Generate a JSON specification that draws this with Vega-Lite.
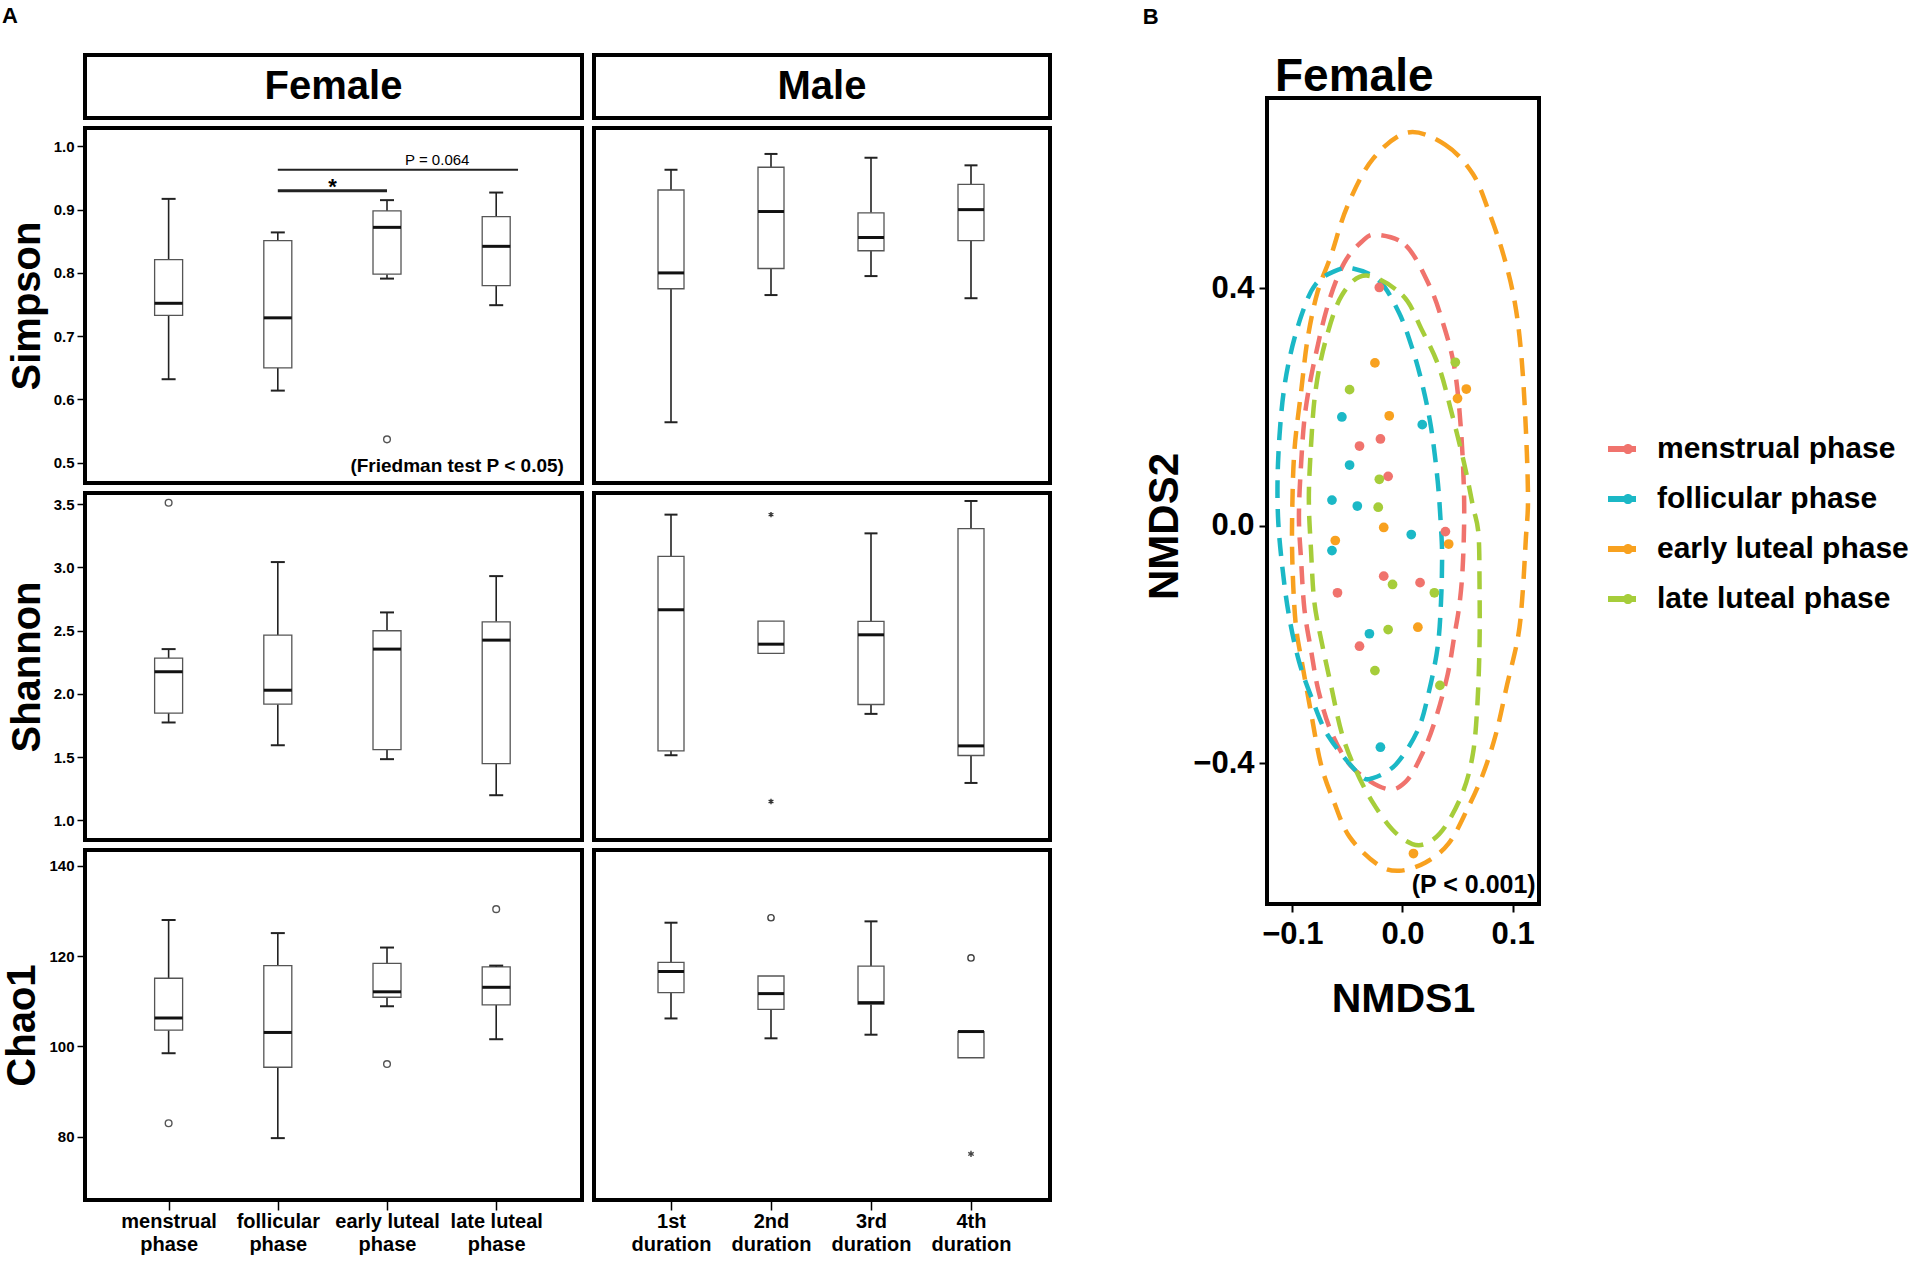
{
"$schema": "https://vega.github.io/schema/vega-lite/v6.json",
"background": "white",
"padding": {"left": 0, "top": 5, "right": 0, "bottom": 0},
"config": {
 "view": {"stroke": "black", "strokeWidth": 4},
 "font": "Liberation Sans",
 "axis": {"grid": false, "domain": false, "labelFont": "Liberation Sans", "titleFont": "Liberation Sans", "labelFontWeight": "bold", "labelColor": "black", "tickColor": "black", "titleColor": "black", "titleFontWeight": "bold"},
 "title": {"font": "Liberation Sans", "fontWeight": "bold", "color": "black"},
 "text": {"font": "Liberation Sans", "color": "black"}
},
"datasets": {
 "box": [
  {"metric":"Simpson","sex":"Female","g":1,"lo":0.632,"q1":0.733,"med":0.752,"q3":0.821,"hi":0.917},
  {"metric":"Simpson","sex":"Female","g":2,"lo":0.614,"q1":0.650,"med":0.729,"q3":0.851,"hi":0.864},
  {"metric":"Simpson","sex":"Female","g":3,"lo":0.791,"q1":0.798,"med":0.872,"q3":0.898,"hi":0.915},
  {"metric":"Simpson","sex":"Female","g":4,"lo":0.749,"q1":0.780,"med":0.842,"q3":0.889,"hi":0.927},
  {"metric":"Simpson","sex":"Male","g":1,"lo":0.564,"q1":0.775,"med":0.800,"q3":0.931,"hi":0.963},
  {"metric":"Simpson","sex":"Male","g":2,"lo":0.765,"q1":0.807,"med":0.897,"q3":0.967,"hi":0.988},
  {"metric":"Simpson","sex":"Male","g":3,"lo":0.795,"q1":0.835,"med":0.856,"q3":0.895,"hi":0.982},
  {"metric":"Simpson","sex":"Male","g":4,"lo":0.760,"q1":0.851,"med":0.900,"q3":0.940,"hi":0.970},
  {"metric":"Shannon","sex":"Female","g":1,"lo":1.773,"q1":1.847,"med":2.174,"q3":2.282,"hi":2.353},
  {"metric":"Shannon","sex":"Female","g":2,"lo":1.593,"q1":1.918,"med":2.028,"q3":2.464,"hi":3.041},
  {"metric":"Shannon","sex":"Female","g":3,"lo":1.483,"q1":1.559,"med":2.353,"q3":2.498,"hi":2.643},
  {"metric":"Shannon","sex":"Female","g":4,"lo":1.198,"q1":1.448,"med":2.424,"q3":2.569,"hi":2.930},
  {"metric":"Shannon","sex":"Male","g":1,"lo":1.514,"q1":1.549,"med":2.664,"q3":3.086,"hi":3.416},
  {"metric":"Shannon","sex":"Male","g":2,"lo":null,"q1":2.319,"med":2.392,"q3":2.574,"hi":null},
  {"metric":"Shannon","sex":"Male","g":3,"lo":1.841,"q1":1.915,"med":2.466,"q3":2.572,"hi":3.268},
  {"metric":"Shannon","sex":"Male","g":4,"lo":1.295,"q1":1.512,"med":1.588,"q3":3.305,"hi":3.524},
  {"metric":"Chao1","sex":"Female","g":1,"lo":98.5,"q1":103.6,"med":106.3,"q3":115.1,"hi":128.0},
  {"metric":"Chao1","sex":"Female","g":2,"lo":79.7,"q1":95.4,"med":103.1,"q3":117.9,"hi":125.1},
  {"metric":"Chao1","sex":"Female","g":3,"lo":108.9,"q1":110.9,"med":112.1,"q3":118.4,"hi":121.9},
  {"metric":"Chao1","sex":"Female","g":4,"lo":101.6,"q1":109.2,"med":113.1,"q3":117.6,"hi":117.9},
  {"metric":"Chao1","sex":"Male","g":1,"lo":106.2,"q1":111.9,"med":116.6,"q3":118.6,"hi":127.4},
  {"metric":"Chao1","sex":"Male","g":2,"lo":101.8,"q1":108.2,"med":111.7,"q3":115.6,"hi":null},
  {"metric":"Chao1","sex":"Male","g":3,"lo":102.6,"q1":109.4,"med":109.7,"q3":117.8,"hi":127.7},
  {"metric":"Chao1","sex":"Male","g":4,"lo":null,"q1":97.5,"med":103.3,"q3":103.3,"hi":null}
 ],
 "out": [
  {"metric":"Simpson","sex":"Female","g":3,"v":0.537,"kind":"o"},
  {"metric":"Shannon","sex":"Female","g":1,"v":3.51,"kind":"o"},
  {"metric":"Shannon","sex":"Male","g":2,"v":3.416,"kind":"*"},
  {"metric":"Shannon","sex":"Male","g":2,"v":1.148,"kind":"*"},
  {"metric":"Chao1","sex":"Female","g":1,"v":83.0,"kind":"o"},
  {"metric":"Chao1","sex":"Female","g":3,"v":96.1,"kind":"o"},
  {"metric":"Chao1","sex":"Female","g":4,"v":130.4,"kind":"o"},
  {"metric":"Chao1","sex":"Male","g":2,"v":128.5,"kind":"o"},
  {"metric":"Chao1","sex":"Male","g":4,"v":119.6,"kind":"o"},
  {"metric":"Chao1","sex":"Male","g":4,"v":76.2,"kind":"*"}
 ],
 "pts": [
  {"phase":"menstrual phase","x":-0.021,"y":0.401},{"phase":"menstrual phase","x":-0.020,"y":0.146},{"phase":"menstrual phase","x":-0.039,"y":0.134},
  {"phase":"menstrual phase","x":-0.013,"y":0.083},{"phase":"menstrual phase","x":0.039,"y":-0.010},{"phase":"menstrual phase","x":-0.017,"y":-0.085},
  {"phase":"menstrual phase","x":0.016,"y":-0.096},{"phase":"menstrual phase","x":-0.059,"y":-0.113},{"phase":"menstrual phase","x":-0.039,"y":-0.203},
  {"phase":"follicular phase","x":-0.055,"y":0.183},{"phase":"follicular phase","x":0.018,"y":0.170},{"phase":"follicular phase","x":-0.048,"y":0.102},
  {"phase":"follicular phase","x":-0.064,"y":0.043},{"phase":"follicular phase","x":-0.041,"y":0.033},{"phase":"follicular phase","x":0.008,"y":-0.015},
  {"phase":"follicular phase","x":-0.064,"y":-0.042},{"phase":"follicular phase","x":-0.030,"y":-0.182},{"phase":"follicular phase","x":-0.020,"y":-0.373},
  {"phase":"early luteal phase","x":-0.025,"y":0.274},{"phase":"early luteal phase","x":0.058,"y":0.230},{"phase":"early luteal phase","x":0.050,"y":0.214},
  {"phase":"early luteal phase","x":-0.012,"y":0.185},{"phase":"early luteal phase","x":-0.017,"y":-0.003},{"phase":"early luteal phase","x":-0.061,"y":-0.025},
  {"phase":"early luteal phase","x":0.042,"y":-0.031},{"phase":"early luteal phase","x":0.014,"y":-0.171},{"phase":"early luteal phase","x":0.010,"y":-0.552},
  {"phase":"late luteal phase","x":0.048,"y":0.275},{"phase":"late luteal phase","x":-0.048,"y":0.229},{"phase":"late luteal phase","x":-0.021,"y":0.078},
  {"phase":"late luteal phase","x":-0.022,"y":0.031},{"phase":"late luteal phase","x":-0.009,"y":-0.099},{"phase":"late luteal phase","x":0.029,"y":-0.113},
  {"phase":"late luteal phase","x":-0.013,"y":-0.175},{"phase":"late luteal phase","x":-0.025,"y":-0.244},{"phase":"late luteal phase","x":0.034,"y":-0.269}
 ],
 "ell": [
  {"phase":"early luteal phase","i":0,"x":0.005,"y":0.662},{"phase":"early luteal phase","i":1,"x":0.039,"y":0.641},{"phase":"early luteal phase","i":2,"x":0.064,"y":0.592},
  {"phase":"early luteal phase","i":3,"x":0.079,"y":0.526},{"phase":"early luteal phase","i":4,"x":0.092,"y":0.454},{"phase":"early luteal phase","i":5,"x":0.102,"y":0.376},
  {"phase":"early luteal phase","i":6,"x":0.108,"y":0.286},{"phase":"early luteal phase","i":7,"x":0.112,"y":0.165},{"phase":"early luteal phase","i":8,"x":0.114,"y":0.045},
  {"phase":"early luteal phase","i":9,"x":0.112,"y":-0.024},{"phase":"early luteal phase","i":10,"x":0.109,"y":-0.117},{"phase":"early luteal phase","i":11,"x":0.105,"y":-0.187},
  {"phase":"early luteal phase","i":12,"x":0.095,"y":-0.268},{"phase":"early luteal phase","i":13,"x":0.085,"y":-0.350},{"phase":"early luteal phase","i":14,"x":0.073,"y":-0.419},
  {"phase":"early luteal phase","i":15,"x":0.059,"y":-0.477},{"phase":"early luteal phase","i":16,"x":0.042,"y":-0.535},{"phase":"early luteal phase","i":17,"x":0.021,"y":-0.567},
  {"phase":"early luteal phase","i":18,"x":-0.003,"y":-0.581},{"phase":"early luteal phase","i":19,"x":-0.023,"y":-0.570},{"phase":"early luteal phase","i":20,"x":-0.048,"y":-0.524},
  {"phase":"early luteal phase","i":21,"x":-0.062,"y":-0.466},{"phase":"early luteal phase","i":22,"x":-0.074,"y":-0.402},{"phase":"early luteal phase","i":23,"x":-0.083,"y":-0.315},
  {"phase":"early luteal phase","i":24,"x":-0.091,"y":-0.233},{"phase":"early luteal phase","i":25,"x":-0.097,"y":-0.164},{"phase":"early luteal phase","i":26,"x":-0.100,"y":-0.059},
  {"phase":"early luteal phase","i":27,"x":-0.100,"y":0.033},{"phase":"early luteal phase","i":28,"x":-0.098,"y":0.129},{"phase":"early luteal phase","i":29,"x":-0.092,"y":0.226},
  {"phase":"early luteal phase","i":30,"x":-0.086,"y":0.316},{"phase":"early luteal phase","i":31,"x":-0.077,"y":0.394},{"phase":"early luteal phase","i":32,"x":-0.065,"y":0.454},
  {"phase":"early luteal phase","i":33,"x":-0.050,"y":0.538},{"phase":"early luteal phase","i":34,"x":-0.027,"y":0.617},
  {"phase":"menstrual phase","i":0,"x":-0.024,"y":0.490},{"phase":"menstrual phase","i":1,"x":0.003,"y":0.472},{"phase":"menstrual phase","i":2,"x":0.024,"y":0.406},
  {"phase":"menstrual phase","i":3,"x":0.036,"y":0.346},{"phase":"menstrual phase","i":4,"x":0.047,"y":0.268},{"phase":"menstrual phase","i":5,"x":0.053,"y":0.165},
  {"phase":"menstrual phase","i":6,"x":0.056,"y":0.045},{"phase":"menstrual phase","i":7,"x":0.055,"y":-0.059},{"phase":"menstrual phase","i":8,"x":0.052,"y":-0.129},
  {"phase":"menstrual phase","i":9,"x":0.047,"y":-0.187},{"phase":"menstrual phase","i":10,"x":0.041,"y":-0.251},{"phase":"menstrual phase","i":11,"x":0.030,"y":-0.326},
  {"phase":"menstrual phase","i":12,"x":0.018,"y":-0.384},{"phase":"menstrual phase","i":13,"x":0.003,"y":-0.431},{"phase":"menstrual phase","i":14,"x":-0.015,"y":-0.443},
  {"phase":"menstrual phase","i":15,"x":-0.045,"y":-0.408},{"phase":"menstrual phase","i":16,"x":-0.064,"y":-0.350},{"phase":"menstrual phase","i":17,"x":-0.076,"y":-0.280},
  {"phase":"menstrual phase","i":18,"x":-0.083,"y":-0.210},{"phase":"menstrual phase","i":19,"x":-0.089,"y":-0.141},{"phase":"menstrual phase","i":20,"x":-0.092,"y":-0.059},
  {"phase":"menstrual phase","i":21,"x":-0.094,"y":0.015},{"phase":"menstrual phase","i":22,"x":-0.092,"y":0.105},{"phase":"menstrual phase","i":23,"x":-0.088,"y":0.195},
  {"phase":"menstrual phase","i":24,"x":-0.079,"y":0.286},{"phase":"menstrual phase","i":25,"x":-0.067,"y":0.376},{"phase":"menstrual phase","i":26,"x":-0.053,"y":0.442},
  {"phase":"menstrual phase","i":27,"x":-0.037,"y":0.478},
  {"phase":"follicular phase","i":0,"x":-0.045,"y":0.433},{"phase":"follicular phase","i":1,"x":-0.021,"y":0.412},{"phase":"follicular phase","i":2,"x":-0.003,"y":0.358},
  {"phase":"follicular phase","i":3,"x":0.009,"y":0.298},{"phase":"follicular phase","i":4,"x":0.018,"y":0.238},{"phase":"follicular phase","i":5,"x":0.026,"y":0.165},
  {"phase":"follicular phase","i":6,"x":0.032,"y":0.075},{"phase":"follicular phase","i":7,"x":0.035,"y":-0.003},{"phase":"follicular phase","i":8,"x":0.036,"y":-0.053},
  {"phase":"follicular phase","i":9,"x":0.035,"y":-0.129},{"phase":"follicular phase","i":10,"x":0.032,"y":-0.204},{"phase":"follicular phase","i":11,"x":0.024,"y":-0.280},
  {"phase":"follicular phase","i":12,"x":0.014,"y":-0.344},{"phase":"follicular phase","i":13,"x":-0.006,"y":-0.402},{"phase":"follicular phase","i":14,"x":-0.027,"y":-0.425},
  {"phase":"follicular phase","i":15,"x":-0.039,"y":-0.419},{"phase":"follicular phase","i":16,"x":-0.067,"y":-0.355},{"phase":"follicular phase","i":17,"x":-0.082,"y":-0.292},
  {"phase":"follicular phase","i":18,"x":-0.094,"y":-0.228},{"phase":"follicular phase","i":19,"x":-0.103,"y":-0.152},{"phase":"follicular phase","i":20,"x":-0.109,"y":-0.071},
  {"phase":"follicular phase","i":21,"x":-0.113,"y":0.015},{"phase":"follicular phase","i":22,"x":-0.113,"y":0.105},{"phase":"follicular phase","i":23,"x":-0.109,"y":0.208},
  {"phase":"follicular phase","i":24,"x":-0.102,"y":0.286},{"phase":"follicular phase","i":25,"x":-0.091,"y":0.358},{"phase":"follicular phase","i":26,"x":-0.079,"y":0.406},
  {"phase":"follicular phase","i":27,"x":-0.062,"y":0.428},
  {"phase":"late luteal phase","i":0,"x":-0.033,"y":0.421},{"phase":"late luteal phase","i":1,"x":0.000,"y":0.388},{"phase":"late luteal phase","i":2,"x":0.018,"y":0.328},
  {"phase":"late luteal phase","i":3,"x":0.033,"y":0.268},{"phase":"late luteal phase","i":4,"x":0.044,"y":0.195},{"phase":"late luteal phase","i":5,"x":0.056,"y":0.105},
  {"phase":"late luteal phase","i":6,"x":0.064,"y":0.033},{"phase":"late luteal phase","i":7,"x":0.069,"y":-0.013},{"phase":"late luteal phase","i":8,"x":0.070,"y":-0.100},
  {"phase":"late luteal phase","i":9,"x":0.070,"y":-0.199},{"phase":"late luteal phase","i":10,"x":0.068,"y":-0.303},{"phase":"late luteal phase","i":11,"x":0.064,"y":-0.384},
  {"phase":"late luteal phase","i":12,"x":0.055,"y":-0.448},{"phase":"late luteal phase","i":13,"x":0.039,"y":-0.506},{"phase":"late luteal phase","i":14,"x":0.024,"y":-0.533},
  {"phase":"late luteal phase","i":15,"x":0.009,"y":-0.536},{"phase":"late luteal phase","i":16,"x":-0.009,"y":-0.512},{"phase":"late luteal phase","i":17,"x":-0.027,"y":-0.466},
  {"phase":"late luteal phase","i":18,"x":-0.042,"y":-0.413},{"phase":"late luteal phase","i":19,"x":-0.055,"y":-0.350},{"phase":"late luteal phase","i":20,"x":-0.065,"y":-0.268},
  {"phase":"late luteal phase","i":21,"x":-0.073,"y":-0.199},{"phase":"late luteal phase","i":22,"x":-0.080,"y":-0.129},{"phase":"late luteal phase","i":23,"x":-0.083,"y":-0.042},
  {"phase":"late luteal phase","i":24,"x":-0.085,"y":0.045},{"phase":"late luteal phase","i":25,"x":-0.083,"y":0.135},{"phase":"late luteal phase","i":26,"x":-0.079,"y":0.226},
  {"phase":"late luteal phase","i":27,"x":-0.070,"y":0.310},{"phase":"late luteal phase","i":28,"x":-0.055,"y":0.388}
 ]
},
"spacing": 89,
"hconcat": [
 {
  "title": {"text": "A", "anchor": "start", "fontSize": 22, "offset": 25, "dx": 1},
  "columns": 2,
  "spacing": {"row": 6, "column": 8},
  "concat": [
   {"width": 497, "height": 63, "data": {"values": [{"sex": "Female"}]},
    "mark": {"type": "text", "fontSize": 40, "fontWeight": "bold", "baseline": "middle"},
    "encoding": {"x": {"datum": 0.5, "type": "quantitative", "scale": {"domain": [0, 1]}, "axis": null},
                 "y": {"datum": 0.5, "type": "quantitative", "scale": {"domain": [0, 1]}, "axis": null},
                 "text": {"field": "sex"}}},
   {"width": 456, "height": 63, "data": {"values": [{"sex": "Male"}]},
    "mark": {"type": "text", "fontSize": 40, "fontWeight": "bold", "baseline": "middle"},
    "encoding": {"x": {"datum": 0.5, "type": "quantitative", "scale": {"domain": [0, 1]}, "axis": null},
                 "y": {"datum": 0.5, "type": "quantitative", "scale": {"domain": [0, 1]}, "axis": null},
                 "text": {"field": "sex"}}},

   {"width": 497, "height": 355, "data": {"name": "box"},
    "transform": [{"filter": "datum.metric === 'Simpson' && datum.sex === 'Female'"}],
    "layer": [
     {"mark": {"type": "rule", "color": "#222", "strokeWidth": 1.6},
      "encoding": {
       "x": {"field": "g", "type": "quantitative", "scale": {"domain": [0.28, 4.74], "nice": false, "zero": false}, "axis": null},
       "y": {"field": "lo", "type": "quantitative", "scale": {"domain": [0.468, 1.029], "nice": false, "zero": false},
             "axis": {"title": "Simpson", "values": [0.5, 0.6, 0.7, 0.8, 0.9, 1.0], "format": ".1f", "labelFontSize": 15, "tickSize": 8, "tickWidth": 1.5, "labelPadding": 3, "titleFontSize": 40, "titlePadding": 6}},
       "y2": {"field": "q1"}}},
     {"mark": {"type": "rule", "color": "#222", "strokeWidth": 1.6},
      "encoding": {"x": {"field": "g", "type": "quantitative", "axis": null}, "y": {"field": "hi", "type": "quantitative"}, "y2": {"field": "q3"}}},
     {"mark": {"type": "bar", "orient": "vertical", "size": 28, "fill": "white", "stroke": "#555", "strokeWidth": 1.3},
      "encoding": {"x": {"field": "g", "type": "quantitative", "axis": null}, "y": {"field": "q1", "type": "quantitative"}, "y2": {"field": "q3"}}},
     {"mark": {"type": "tick", "orient": "horizontal", "size": 28, "thickness": 3, "color": "#111", "opacity": 1},
      "encoding": {"x": {"field": "g", "type": "quantitative", "axis": null}, "y": {"field": "med", "type": "quantitative"}}},
     {"mark": {"type": "tick", "orient": "horizontal", "size": 14, "thickness": 2, "color": "#222", "opacity": 1},
      "encoding": {"x": {"field": "g", "type": "quantitative", "axis": null}, "y": {"field": "lo", "type": "quantitative"}}},
     {"mark": {"type": "tick", "orient": "horizontal", "size": 14, "thickness": 2, "color": "#222", "opacity": 1},
      "encoding": {"x": {"field": "g", "type": "quantitative", "axis": null}, "y": {"field": "hi", "type": "quantitative"}}},
     {"data": {"name": "out"}, "transform": [{"filter": "datum.metric === 'Simpson' && datum.sex === 'Female'"}],
      "mark": {"type": "point", "filled": false, "size": 45, "color": "#555", "strokeWidth": 1.4, "opacity": 1},
      "encoding": {"x": {"field": "g", "type": "quantitative", "axis": null}, "y": {"field": "v", "type": "quantitative"},
       "shape": {"field": "kind", "type": "nominal", "scale": {"domain": ["o", "*"], "range": ["circle", "M0,-1V1M-0.87,-0.5L0.87,0.5M-0.87,0.5L0.87,-0.5"]}, "legend": null}}},
     {"data": {"values": [{"x1": 2, "x2": 3, "y": 0.930, "sig": "*"}, {"x1": 2, "x2": 4.2, "y": 0.963, "sig": "P"}]},
      "mark": {"type": "rule", "color": "#222"},
      "encoding": {"x": {"field": "x1", "type": "quantitative", "axis": null}, "x2": {"field": "x2"}, "y": {"field": "y", "type": "quantitative"},
       "strokeWidth": {"field": "sig", "type": "nominal", "scale": {"domain": ["*", "P"], "range": [3, 2]}, "legend": null}}},
     {"data": {"values": [{"x": 2.5, "y": 0.936, "label": "*"}]},
      "mark": {"type": "text", "fontSize": 22, "fontWeight": "bold", "baseline": "middle"},
      "encoding": {"x": {"field": "x", "type": "quantitative", "axis": null}, "y": {"field": "y", "type": "quantitative"}, "text": {"field": "label"}}},
     {"data": {"values": [{"x": 3.46, "y": 0.978, "label": "P = 0.064"}]},
      "mark": {"type": "text", "fontSize": 15, "baseline": "middle"},
      "encoding": {"x": {"field": "x", "type": "quantitative", "axis": null}, "y": {"field": "y", "type": "quantitative"}, "text": {"field": "label"}}},
     {"data": {"values": [{"x": 4.62, "y": 0.495, "label": "(Friedman test P < 0.05)"}]},
      "mark": {"type": "text", "fontSize": 19, "fontWeight": "bold", "align": "right", "baseline": "middle"},
      "encoding": {"x": {"field": "x", "type": "quantitative", "axis": null}, "y": {"field": "y", "type": "quantitative"}, "text": {"field": "label"}}}
    ]},

   {"width": 456, "height": 355, "data": {"name": "box"},
    "transform": [{"filter": "datum.metric === 'Simpson' && datum.sex === 'Male'"}],
    "layer": [
     {"mark": {"type": "rule", "color": "#222", "strokeWidth": 1.6},
      "encoding": {
       "x": {"field": "g", "type": "quantitative", "scale": {"domain": [0.28, 4.74], "nice": false, "zero": false}, "axis": null},
       "y": {"field": "lo", "type": "quantitative", "scale": {"domain": [0.468, 1.029], "nice": false, "zero": false}, "axis": null},
       "y2": {"field": "q1"}}},
     {"mark": {"type": "rule", "color": "#222", "strokeWidth": 1.6},
      "encoding": {"x": {"field": "g", "type": "quantitative", "axis": null}, "y": {"field": "hi", "type": "quantitative", "axis": null}, "y2": {"field": "q3"}}},
     {"mark": {"type": "bar", "orient": "vertical", "size": 26, "fill": "white", "stroke": "#555", "strokeWidth": 1.3},
      "encoding": {"x": {"field": "g", "type": "quantitative", "axis": null}, "y": {"field": "q1", "type": "quantitative", "axis": null}, "y2": {"field": "q3"}}},
     {"mark": {"type": "tick", "orient": "horizontal", "size": 26, "thickness": 3, "color": "#111", "opacity": 1},
      "encoding": {"x": {"field": "g", "type": "quantitative", "axis": null}, "y": {"field": "med", "type": "quantitative", "axis": null}}},
     {"mark": {"type": "tick", "orient": "horizontal", "size": 13, "thickness": 2, "color": "#222", "opacity": 1},
      "encoding": {"x": {"field": "g", "type": "quantitative", "axis": null}, "y": {"field": "lo", "type": "quantitative", "axis": null}}},
     {"mark": {"type": "tick", "orient": "horizontal", "size": 13, "thickness": 2, "color": "#222", "opacity": 1},
      "encoding": {"x": {"field": "g", "type": "quantitative", "axis": null}, "y": {"field": "hi", "type": "quantitative", "axis": null}}}
    ]},

   {"width": 497, "height": 347, "data": {"name": "box"},
    "transform": [{"filter": "datum.metric === 'Shannon' && datum.sex === 'Female'"}],
    "layer": [
     {"mark": {"type": "rule", "color": "#222", "strokeWidth": 1.6},
      "encoding": {
       "x": {"field": "g", "type": "quantitative", "scale": {"domain": [0.28, 4.74], "nice": false, "zero": false}, "axis": null},
       "y": {"field": "lo", "type": "quantitative", "scale": {"domain": [0.844, 3.587], "nice": false, "zero": false},
             "axis": {"title": "Shannon", "values": [1.0, 1.5, 2.0, 2.5, 3.0, 3.5], "format": ".1f", "labelFontSize": 15, "tickSize": 8, "tickWidth": 1.5, "labelPadding": 3, "titleFontSize": 40, "titlePadding": 6}},
       "y2": {"field": "q1"}}},
     {"mark": {"type": "rule", "color": "#222", "strokeWidth": 1.6},
      "encoding": {"x": {"field": "g", "type": "quantitative", "axis": null}, "y": {"field": "hi", "type": "quantitative"}, "y2": {"field": "q3"}}},
     {"mark": {"type": "bar", "orient": "vertical", "size": 28, "fill": "white", "stroke": "#555", "strokeWidth": 1.3},
      "encoding": {"x": {"field": "g", "type": "quantitative", "axis": null}, "y": {"field": "q1", "type": "quantitative"}, "y2": {"field": "q3"}}},
     {"mark": {"type": "tick", "orient": "horizontal", "size": 28, "thickness": 3, "color": "#111", "opacity": 1},
      "encoding": {"x": {"field": "g", "type": "quantitative", "axis": null}, "y": {"field": "med", "type": "quantitative"}}},
     {"mark": {"type": "tick", "orient": "horizontal", "size": 14, "thickness": 2, "color": "#222", "opacity": 1},
      "encoding": {"x": {"field": "g", "type": "quantitative", "axis": null}, "y": {"field": "lo", "type": "quantitative"}}},
     {"mark": {"type": "tick", "orient": "horizontal", "size": 14, "thickness": 2, "color": "#222", "opacity": 1},
      "encoding": {"x": {"field": "g", "type": "quantitative", "axis": null}, "y": {"field": "hi", "type": "quantitative"}}},
     {"data": {"name": "out"}, "transform": [{"filter": "datum.metric === 'Shannon' && datum.sex === 'Female'"}],
      "mark": {"type": "point", "filled": false, "size": 45, "color": "#555", "strokeWidth": 1.4, "opacity": 1},
      "encoding": {"x": {"field": "g", "type": "quantitative", "axis": null}, "y": {"field": "v", "type": "quantitative"},
       "shape": {"field": "kind", "type": "nominal", "scale": {"domain": ["o", "*"], "range": ["circle", "M0,-1V1M-0.87,-0.5L0.87,0.5M-0.87,0.5L0.87,-0.5"]}, "legend": null}}}
    ]},

   {"width": 456, "height": 347, "data": {"name": "box"},
    "transform": [{"filter": "datum.metric === 'Shannon' && datum.sex === 'Male'"}],
    "layer": [
     {"mark": {"type": "rule", "color": "#222", "strokeWidth": 1.6},
      "encoding": {
       "x": {"field": "g", "type": "quantitative", "scale": {"domain": [0.28, 4.74], "nice": false, "zero": false}, "axis": null},
       "y": {"field": "lo", "type": "quantitative", "scale": {"domain": [0.844, 3.587], "nice": false, "zero": false}, "axis": null},
       "y2": {"field": "q1"}}},
     {"mark": {"type": "rule", "color": "#222", "strokeWidth": 1.6},
      "encoding": {"x": {"field": "g", "type": "quantitative", "axis": null}, "y": {"field": "hi", "type": "quantitative", "axis": null}, "y2": {"field": "q3"}}},
     {"mark": {"type": "bar", "orient": "vertical", "size": 26, "fill": "white", "stroke": "#555", "strokeWidth": 1.3},
      "encoding": {"x": {"field": "g", "type": "quantitative", "axis": null}, "y": {"field": "q1", "type": "quantitative", "axis": null}, "y2": {"field": "q3"}}},
     {"mark": {"type": "tick", "orient": "horizontal", "size": 26, "thickness": 3, "color": "#111", "opacity": 1},
      "encoding": {"x": {"field": "g", "type": "quantitative", "axis": null}, "y": {"field": "med", "type": "quantitative", "axis": null}}},
     {"mark": {"type": "tick", "orient": "horizontal", "size": 13, "thickness": 2, "color": "#222", "opacity": 1},
      "encoding": {"x": {"field": "g", "type": "quantitative", "axis": null}, "y": {"field": "lo", "type": "quantitative", "axis": null}}},
     {"mark": {"type": "tick", "orient": "horizontal", "size": 13, "thickness": 2, "color": "#222", "opacity": 1},
      "encoding": {"x": {"field": "g", "type": "quantitative", "axis": null}, "y": {"field": "hi", "type": "quantitative", "axis": null}}},
     {"data": {"name": "out"}, "transform": [{"filter": "datum.metric === 'Shannon' && datum.sex === 'Male'"}],
      "mark": {"type": "point", "filled": false, "size": 30, "color": "#333", "strokeWidth": 1.4, "opacity": 1},
      "encoding": {"x": {"field": "g", "type": "quantitative", "axis": null}, "y": {"field": "v", "type": "quantitative", "axis": null},
       "shape": {"field": "kind", "type": "nominal", "scale": {"domain": ["o", "*"], "range": ["circle", "M0,-1V1M-0.87,-0.5L0.87,0.5M-0.87,0.5L0.87,-0.5"]}, "legend": null}}}
    ]},

   {"width": 497, "height": 350, "data": {"name": "box"},
    "transform": [{"filter": "datum.metric === 'Chao1' && datum.sex === 'Female'"}],
    "layer": [
     {"mark": {"type": "rule", "color": "#222", "strokeWidth": 1.6},
      "encoding": {
       "x": {"field": "g", "type": "quantitative", "scale": {"domain": [0.28, 4.74], "nice": false, "zero": false},
             "axis": {"values": [1, 2, 3, 4], "labelExpr": "datum.value === 1 ? ['menstrual', 'phase'] : datum.value === 2 ? ['follicular', 'phase'] : datum.value === 3 ? ['early luteal', 'phase'] : ['late luteal', 'phase']", "labelFontSize": 20, "labelLineHeight": 23, "tickSize": 10, "tickWidth": 1.5, "labelPadding": 1, "title": null, "labelOverlap": false, "labelBound": false, "labelFlush": false}},
       "y": {"field": "lo", "type": "quantitative", "scale": {"domain": [66.0, 143.5], "nice": false, "zero": false},
             "axis": {"title": "Chao1", "values": [80, 100, 120, 140], "format": "d", "labelFontSize": 15, "tickSize": 8, "tickWidth": 1.5, "labelPadding": 3, "titleFontSize": 40, "titlePadding": 6}},
       "y2": {"field": "q1"}}},
     {"mark": {"type": "rule", "color": "#222", "strokeWidth": 1.6},
      "encoding": {"x": {"field": "g", "type": "quantitative"}, "y": {"field": "hi", "type": "quantitative"}, "y2": {"field": "q3"}}},
     {"mark": {"type": "bar", "orient": "vertical", "size": 28, "fill": "white", "stroke": "#555", "strokeWidth": 1.3},
      "encoding": {"x": {"field": "g", "type": "quantitative"}, "y": {"field": "q1", "type": "quantitative"}, "y2": {"field": "q3"}}},
     {"mark": {"type": "tick", "orient": "horizontal", "size": 28, "thickness": 3, "color": "#111", "opacity": 1},
      "encoding": {"x": {"field": "g", "type": "quantitative"}, "y": {"field": "med", "type": "quantitative"}}},
     {"mark": {"type": "tick", "orient": "horizontal", "size": 14, "thickness": 2, "color": "#222", "opacity": 1},
      "encoding": {"x": {"field": "g", "type": "quantitative"}, "y": {"field": "lo", "type": "quantitative"}}},
     {"mark": {"type": "tick", "orient": "horizontal", "size": 14, "thickness": 2, "color": "#222", "opacity": 1},
      "encoding": {"x": {"field": "g", "type": "quantitative"}, "y": {"field": "hi", "type": "quantitative"}}},
     {"data": {"name": "out"}, "transform": [{"filter": "datum.metric === 'Chao1' && datum.sex === 'Female'"}],
      "mark": {"type": "point", "filled": false, "size": 45, "color": "#555", "strokeWidth": 1.4, "opacity": 1},
      "encoding": {"x": {"field": "g", "type": "quantitative"}, "y": {"field": "v", "type": "quantitative"},
       "shape": {"field": "kind", "type": "nominal", "scale": {"domain": ["o", "*"], "range": ["circle", "M0,-1V1M-0.87,-0.5L0.87,0.5M-0.87,0.5L0.87,-0.5"]}, "legend": null}}}
    ]},

   {"width": 456, "height": 350, "data": {"name": "box"},
    "transform": [{"filter": "datum.metric === 'Chao1' && datum.sex === 'Male'"}],
    "layer": [
     {"mark": {"type": "rule", "color": "#222", "strokeWidth": 1.6},
      "encoding": {
       "x": {"field": "g", "type": "quantitative", "scale": {"domain": [0.28, 4.74], "nice": false, "zero": false},
             "axis": {"values": [1, 2, 3, 4], "labelExpr": "datum.value === 1 ? ['1st', 'duration'] : datum.value === 2 ? ['2nd', 'duration'] : datum.value === 3 ? ['3rd', 'duration'] : ['4th', 'duration']", "labelFontSize": 20, "labelLineHeight": 23, "tickSize": 10, "tickWidth": 1.5, "labelPadding": 1, "title": null, "labelOverlap": false, "labelBound": false, "labelFlush": false}},
       "y": {"field": "lo", "type": "quantitative", "scale": {"domain": [66.0, 143.5], "nice": false, "zero": false}, "axis": null},
       "y2": {"field": "q1"}}},
     {"mark": {"type": "rule", "color": "#222", "strokeWidth": 1.6},
      "encoding": {"x": {"field": "g", "type": "quantitative"}, "y": {"field": "hi", "type": "quantitative", "axis": null}, "y2": {"field": "q3"}}},
     {"mark": {"type": "bar", "orient": "vertical", "size": 26, "fill": "white", "stroke": "#555", "strokeWidth": 1.3},
      "encoding": {"x": {"field": "g", "type": "quantitative"}, "y": {"field": "q1", "type": "quantitative", "axis": null}, "y2": {"field": "q3"}}},
     {"mark": {"type": "tick", "orient": "horizontal", "size": 26, "thickness": 3, "color": "#111", "opacity": 1},
      "encoding": {"x": {"field": "g", "type": "quantitative"}, "y": {"field": "med", "type": "quantitative", "axis": null}}},
     {"mark": {"type": "tick", "orient": "horizontal", "size": 13, "thickness": 2, "color": "#222", "opacity": 1},
      "encoding": {"x": {"field": "g", "type": "quantitative"}, "y": {"field": "lo", "type": "quantitative", "axis": null}}},
     {"mark": {"type": "tick", "orient": "horizontal", "size": 13, "thickness": 2, "color": "#222", "opacity": 1},
      "encoding": {"x": {"field": "g", "type": "quantitative"}, "y": {"field": "hi", "type": "quantitative", "axis": null}}},
     {"data": {"name": "out"}, "transform": [{"filter": "datum.metric === 'Chao1' && datum.sex === 'Male'"}],
      "mark": {"type": "point", "filled": false, "size": 40, "color": "#444", "strokeWidth": 1.4, "opacity": 1},
      "encoding": {"x": {"field": "g", "type": "quantitative"}, "y": {"field": "v", "type": "quantitative", "axis": null},
       "shape": {"field": "kind", "type": "nominal", "scale": {"domain": ["o", "*"], "range": ["circle", "M0,-1V1M-0.87,-0.5L0.87,0.5M-0.87,0.5L0.87,-0.5"]}, "legend": null}}}
    ]}
  ]
 },
 {
  "title": {"text": "B", "anchor": "start", "fontSize": 22, "offset": 25, "dx": 1},
  "spacing": 0,
  "bounds": "flush",
  "vconcat": [
   {"width": 272, "height": 43, "view": {"stroke": null}, "data": {"values": [{"label": "Female"}]},
    "mark": {"type": "text", "fontSize": 46, "fontWeight": "bold", "align": "left", "baseline": "middle", "dx": 8},
    "encoding": {"x": {"datum": 0, "type": "quantitative", "scale": {"domain": [0, 1]}, "axis": null},
                 "y": {"datum": 0.5, "type": "quantitative", "scale": {"domain": [0, 1]}, "axis": null},
                 "text": {"field": "label"}}},
   {
    "width": 272, "height": 806,
    "layer": [
     {"data": {"name": "ell"},
      "mark": {"type": "line", "interpolate": "cardinal-closed", "strokeDash": [18, 11], "strokeWidth": 4.5},
      "encoding": {
       "x": {"field": "x", "type": "quantitative", "scale": {"domain": [-0.123, 0.124], "nice": false, "zero": false},
             "axis": {"title": "NMDS1", "values": [-0.1, 0, 0.1], "format": ".1f", "labelFontSize": 31, "tickSize": 8, "tickWidth": 2, "labelPadding": 7, "titleFontSize": 41, "titlePadding": 30}},
       "y": {"field": "y", "type": "quantitative", "scale": {"domain": [-0.637, 0.72], "nice": false, "zero": false},
             "axis": {"title": "NMDS2", "values": [-0.4, 0, 0.4], "format": ".1f", "labelFontSize": 31, "tickSize": 8, "tickWidth": 2, "labelPadding": 5, "titleFontSize": 42, "titlePadding": 6, "titleY": 428}},
       "color": {"field": "phase", "type": "nominal",
                 "scale": {"domain": ["menstrual phase", "follicular phase", "early luteal phase", "late luteal phase"], "range": ["#F0736D", "#1BB8C6", "#F8A11F", "#A6CD3A"]}},
       "order": {"field": "i", "type": "quantitative"}}},
     {"data": {"name": "pts"},
      "mark": {"type": "point", "filled": true, "size": 95, "opacity": 1},
      "encoding": {
       "x": {"field": "x", "type": "quantitative"},
       "y": {"field": "y", "type": "quantitative"},
       "color": {"field": "phase", "type": "nominal",
                 "legend": {"title": null, "orient": "none", "legendX": 1522, "legendY": 379, "labelFontSize": 30, "labelFontWeight": "bold", "labelColor": "black", "labelFont": "Liberation Sans", "labelLimit": 0,
                            "symbolType": "M-1,-0.21H1V0.21H-1Z M0.07,0A0.36,0.36 0 1,1 0.79,0A0.36,0.36 0 1,1 0.07,0Z", "symbolSize": 784, "symbolStrokeWidth": 0, "rowPadding": 20, "labelOffset": 20}}}},
     {"data": {"values": [{"x": 0.121, "y": -0.605, "label": "(P < 0.001)"}]},
      "mark": {"type": "text", "fontSize": 25, "fontWeight": "bold", "align": "right", "baseline": "middle"},
      "encoding": {"x": {"field": "x", "type": "quantitative"}, "y": {"field": "y", "type": "quantitative"}, "text": {"field": "label"}}}
    ]
   }
  ]
 }
]
}
